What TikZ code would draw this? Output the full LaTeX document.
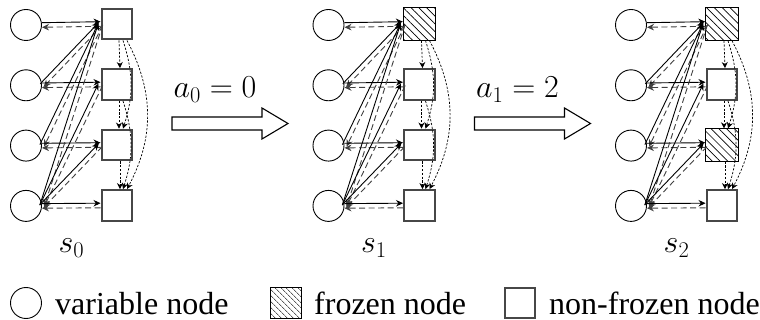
\RequirePackage{fix-cm}
\documentclass[tikz,border=0pt]{standalone}
\usepackage{fontspec}
\setmainfont{Liberation Serif}
\usetikzlibrary{arrows.meta,calc,patterns.meta}
\begin{document}
\fontsize{32}{38}\selectfont
\begin{tikzpicture}[x=1pt,y={(0pt,-1pt)},
  varnode/.style={circle,draw=black,line width=0.9pt,minimum size=31pt,inner sep=0pt},
  nf/.style={rectangle,draw=black!72,line width=2.4pt,minimum size=30.5pt,inner sep=0pt},
  fz/.style={rectangle,draw=black,line width=0.9pt,minimum size=32.5pt,inner sep=0pt,
     pattern={Lines[angle=-45,distance=5.5pt,line width=0.7pt]},pattern color=black},
  fzleg/.style={rectangle,draw=black,line width=0.9pt,minimum size=31pt,inner sep=0pt,
     pattern={Lines[angle=-45,distance=4pt,line width=0.6pt]},pattern color=black},
  solidmsg/.style={draw=black,line width=0.9pt,-{Stealth[length=7pt,width=6.5pt]}},
  dashmsg/.style={draw=black!75,line width=0.9pt,dash pattern=on 6pt off 3.5pt,-{Stealth[length=7pt,width=6.5pt]}},
  dotmsg/.style={draw=black,line width=0.7pt,dash pattern=on 2.2pt off 1.6pt,-{Stealth[length=6pt,width=6pt]}},
  bigarrow/.style={draw=black,line width=1.1pt,fill=white},
  lbl/.style={inner sep=0pt,anchor=base},
  legtxt/.style={inner sep=0pt,anchor=base west}
]
\useasboundingbox (0,0) rectangle (760,320);

\foreach \p/\dx/\fa/\fc in {0/0/nf/nf,1/302.5/fz/nf,2/605/fz/fz} {
  \foreach \i in {1,...,4} {
    \node[varnode] (c\p\i) at ({26+\dx},{25+60.3*(\i-1)}) {};
  }
  \node[\fa] (q\p1) at ({117+\dx},{24+60.5*0}) {};
  \node[nf]  (q\p2) at ({117+\dx},{24+60.5*1}) {};
  \node[\fc] (q\p3) at ({117+\dx},{24+60.5*2}) {};
  \node[nf]  (q\p4) at ({117+\dx},{24+60.5*3}) {};
  \foreach \i/\j in {1/1,2/1,2/2,3/1,3/3,4/1,4/2,4/3,4/4} {
    \draw[solidmsg] ($(c\p\i.east)!2.3pt!90:(q\p\j.west)$) -- ($(q\p\j.west)!2.3pt!-90:(c\p\i.east)$);
    \draw[dashmsg] ($(q\p\j.west)!2.3pt!90:(c\p\i.east)$) -- ($(c\p\i.east)!2.3pt!-90:(q\p\j.west)$);
  }
  \draw[dotmsg] ([xshift=2pt]q\p1.south) -- ([xshift=3pt]q\p2.north);
  \draw[dotmsg] ([xshift=6pt]q\p1.south) to[bend left=18] ([xshift=6pt]q\p3.north);
  \draw[dotmsg] ([xshift=10pt]q\p1.south) to[bend left=28] ([xshift=10pt]q\p4.north);
  \draw[dotmsg] ([xshift=2pt]q\p2.south) -- ([xshift=2pt]q\p3.north);
  \draw[dotmsg] ([xshift=6pt]q\p2.south) to[bend left=18] ([xshift=6pt]q\p4.north);
  \draw[dotmsg] ([xshift=3pt]q\p3.south) -- ([xshift=3pt]q\p4.north);
}

\node[lbl] (s0) at (71.5,253) {$s_0$};
\node[lbl] (s1) at (374,253) {$s_1$};
\node[lbl] (s2) at (676.5,253) {$s_2$};

\draw[bigarrow] (172,117) -- (262,117) -- (262,108) -- (288,123.5) -- (262,139) -- (262,130) -- (172,130) -- cycle;
\draw[bigarrow] (474.5,117) -- (564.5,117) -- (564.5,108) -- (590.5,123.5) -- (564.5,139) -- (564.5,130) -- (474.5,130) -- cycle;
\node[lbl] (a0) at (215,98) {$a_0 = 0$};
\node[lbl] (a1) at (517.5,98) {$a_1 = 2$};

\node[varnode] (lc) at (26,303) {};
\node[legtxt] (lt1) at (55,314) {variable node};
\node[fzleg] (lf) at (286,303) {};
\node[legtxt] (lt2) at (314,314) {frozen node};
\node[nf] (ln) at (520,303) {};
\node[legtxt] (lt3) at (549,314) {non-frozen node};
\end{tikzpicture}
\end{document}
